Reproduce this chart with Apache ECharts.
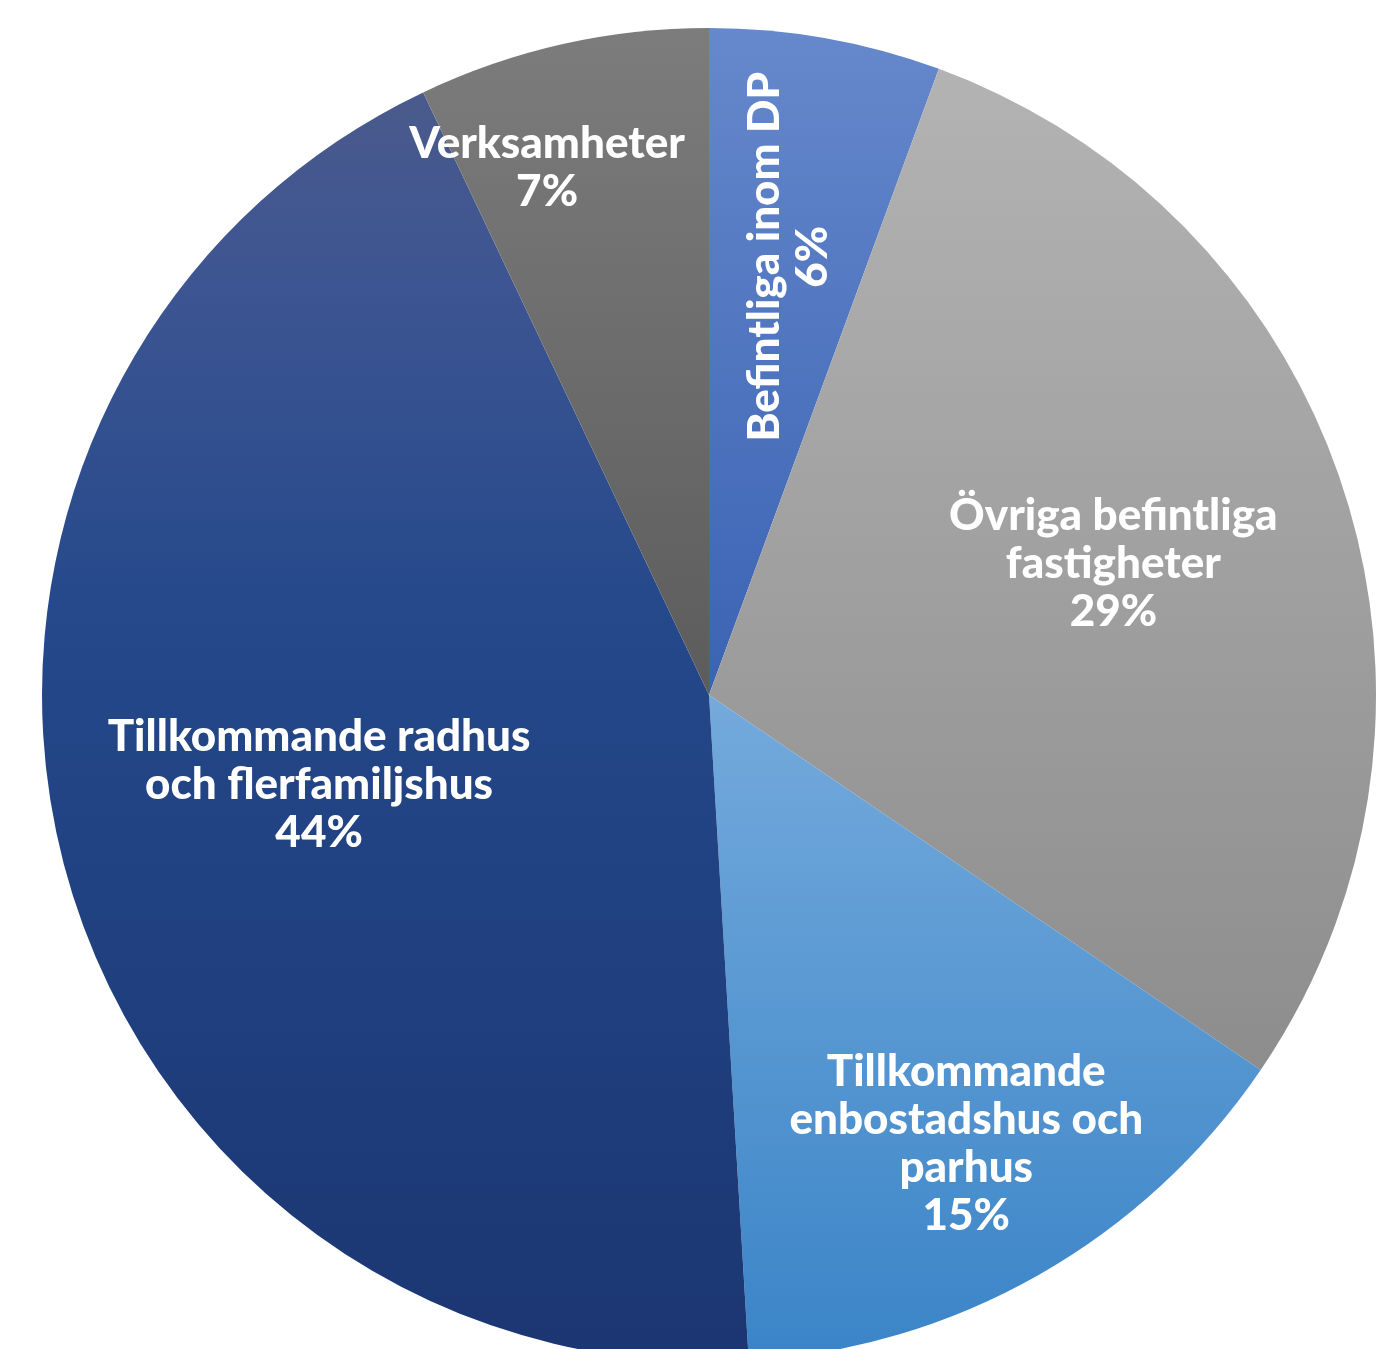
<!DOCTYPE html>
<html>
<head>
<meta charset="utf-8">
<script src="https://cdn.jsdelivr.net/npm/echarts@6/dist/echarts.min.js"></script>
<style>
html,body{margin:0;padding:0;background:#fff;}
#chart{width:1398px;height:1349px;}
</style>
</head>
<body>
<div id="chart"></div>
<script>
// Data
var categories = [
  'Befintliga inom DP',
  'Övriga befintliga fastigheter',
  'Tillkommande enbostadshus och parhus',
  'Tillkommande radhus och flerfamiljshus',
  'Verksamheter'
];
var values = [5.6, 28.9, 14.55, 43.9, 7.05];
var percentLabels = ['6%', '29%', '15%', '44%', '7%'];
var labelLines = [
  'Befintliga inom DP',
  'Övriga befintliga\nfastigheter',
  'Tillkommande\nenbostadshus och\nparhus',
  'Tillkommande radhus\noch flerfamiljshus',
  'Verksamheter'
];

// Styles
var gradients = [
  [[0, '#6688cc'], [1, '#3a63b3']],
  [[0, '#b3b3b3'], [1, '#8d8d8d']],
  [[0, '#74aadc'], [1, '#3a84c7']],
  [[0, '#4a5a8c'], [0.15, '#3d5592'], [0.42, '#24488a'], [1, '#1b3672']],
  [[0, '#7c7c7c'], [1, '#5c5c5c']]
];
// offsets in label-local frame (rotated label uses its own axes)
var labelOffsets = [[107, 21], [84, -28], [91, 156], [-64, 6], [-88, -199]];
var labelRotate = [90, 0, 0, 0, 0];

var chart = echarts.init(document.getElementById('chart'));
var data = categories.map(function (c, i) {
  return {
    name: c,
    value: values[i],
    itemStyle: {
      color: new echarts.graphic.LinearGradient(0, 0, 0, 1, gradients[i].map(function (s) {
        return {offset: s[0], color: s[1]};
      }))
    },
    label: {rotate: labelRotate[i]}
  };
});

chart.setOption({
  animation: false,
  series: [{
    type: 'pie',
    center: [709, 695],
    radius: [0, 667],
    startAngle: 90,
    clockwise: true,
    data: data,
    itemStyle: {borderWidth: 0},
    label: {
      show: true,
      position: 'inside',
      color: '#ffffff',
      fontFamily: 'Lato',
      fontWeight: 900,
      fontSize: 44,
      lineHeight: 48,
      align: 'center',
      formatter: function (p) {
        return labelLines[p.dataIndex] + '\n' + percentLabels[p.dataIndex];
      }
    },
    labelLine: {show: false},
    labelLayout: function (p) {
      var o = labelOffsets[p.dataIndex];
      return {dx: o[0], dy: o[1]};
    },
    emphasis: {disabled: true}
  }]
});
</script>
</body>
</html>
